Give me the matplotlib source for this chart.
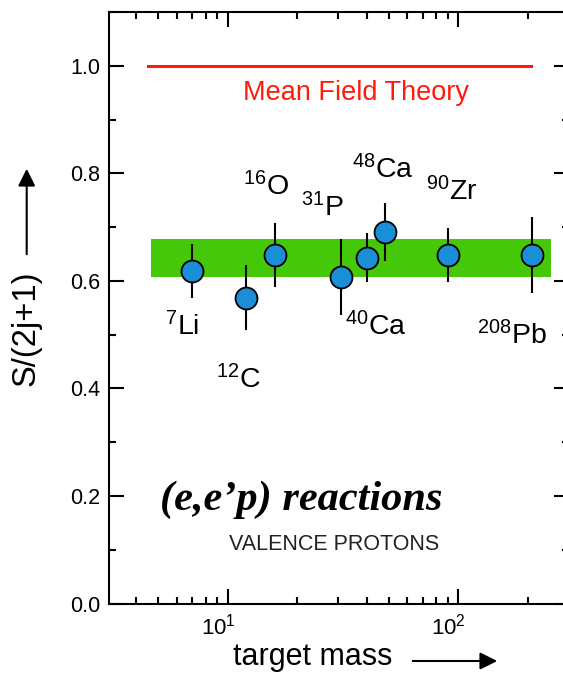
import matplotlib
matplotlib.use('Agg')
import matplotlib.pyplot as plt
import matplotlib.transforms as mtransforms
from matplotlib.ticker import LogLocator, MultipleLocator, FormatStrFormatter, NullFormatter

plt.rcParams['font.family'] = ['Liberation Sans', 'DejaVu Sans']
plt.rcParams['mathtext.fontset'] = 'custom'
plt.rcParams['mathtext.rm'] = 'Liberation Sans'
plt.rcParams['mathtext.it'] = 'Liberation Sans:italic'
plt.rcParams['mathtext.bf'] = 'Liberation Sans:bold'

# data
mass = [7, 12, 16, 31, 40, 48, 90, 208]
sf = [0.619, 0.569, 0.648, 0.607, 0.643, 0.691, 0.648, 0.648]
sf_err = [0.05, 0.06, 0.06, 0.07, 0.046, 0.054, 0.05, 0.07]
isotopes = ['7Li', '12C', '16O', '31P', '40Ca', '48Ca', '90Zr', '208Pb']
band = (0.607, 0.677)
band_range = (4.62, 251)
mean_field = 1.0
mean_field_range = (4.5, 206)

# label anchor (left, baseline) in data coords, same order as isotopes
label_pos = [(5.34, 0.499), (8.85, 0.400), (11.66, 0.759), (20.8, 0.720),
             (32.1, 0.499), (34.6, 0.790), (72.4, 0.749), (120.2, 0.482)]

fig = plt.figure(figsize=(5.63, 6.78), dpi=100)
ax = fig.add_axes([109 / 563, 74.5 / 678, (568.5 - 109) / 563, (603.5 - 12) / 678])

ax.fill_between(band_range, band[0], band[1], color='#46c80a', lw=0, zorder=1)
ax.plot(mean_field_range, [mean_field, mean_field], color='#ff1a0a', lw=2.2, zorder=2)
ax.errorbar(mass, sf, yerr=sf_err, fmt='o', ms=15.8, mfc='#1b8fd6', mec='black',
            mew=1.3, ecolor='black', elinewidth=1.5, capsize=0, zorder=3)

for name, (lx, ly) in zip(isotopes, label_pos):
    num = ''.join(c for c in name if c.isdigit())
    sym = ''.join(c for c in name if c.isalpha())
    ax.text(lx, ly, r'$^{%s}$%s' % (num, sym), fontsize=20.5, ha='left', va='baseline')

ax.text(36.1, 0.936, 'Mean Field Theory', color='#ff1a0a', fontsize=19.5,
        ha='center', va='baseline')
ax.text(20.8, 0.174, '(e,e\u2019p) reactions', family='Liberation Serif',
        style='italic', weight='bold', fontsize=30.5, ha='center', va='baseline')
ax.text(29.0, 0.099, 'VALENCE PROTONS', color='#222222', fontsize=15.5,
        ha='center', va='baseline')

ax.set_xscale('log')
ax.set_xlim(3.05, 300)
ax.set_ylim(0, 1.1)
ax.xaxis.set_major_locator(LogLocator(base=10))
ax.xaxis.set_minor_locator(LogLocator(base=10, subs=range(2, 10)))
ax.xaxis.set_minor_formatter(NullFormatter())
ax.yaxis.set_major_locator(MultipleLocator(0.2))
ax.yaxis.set_minor_locator(MultipleLocator(0.1))
ax.yaxis.set_major_formatter(FormatStrFormatter('%.1f'))

ax.tick_params(which='both', direction='in', top=True, right=True, width=1.5)
ax.tick_params(which='major', length=10.5)
ax.tick_params(which='minor', length=5)
ax.tick_params(axis='y', labelsize=15.5, pad=6.5)
ax.tick_params(axis='x', labelsize=16, pad=7)
for s in ax.spines.values():
    s.set_linewidth(1.5)

# the x tick labels sit a little left of their ticks in the reference
shift = mtransforms.ScaledTranslation(-7 / 72, 0, fig.dpi_scale_trans)
for lab in ax.get_xticklabels():
    lab.set_transform(lab.get_transform() + shift)

# axis titles with arrows
fig.text(26 / 563, 1 - 328 / 678, 'S/(2j+1)', rotation=90, fontsize=23.5,
         ha='center', va='center')
fig.text(313 / 563, 1 - 665 / 678, 'target mass', fontsize=22, ha='center',
         va='baseline')
arrow = dict(arrowstyle='-|>', color='black', lw=1.5, mutation_scale=26)
fig.add_artist(matplotlib.patches.FancyArrowPatch(
    (26.7 / 563, 1 - 257 / 678), (26.7 / 563, 1 - 166 / 678),
    transform=fig.transFigure, **arrow))
fig.add_artist(matplotlib.patches.FancyArrowPatch(
    (410 / 563, 1 - 661 / 678), (500 / 563, 1 - 661 / 678),
    transform=fig.transFigure, **arrow))

fig.savefig('out.png', dpi=100)
